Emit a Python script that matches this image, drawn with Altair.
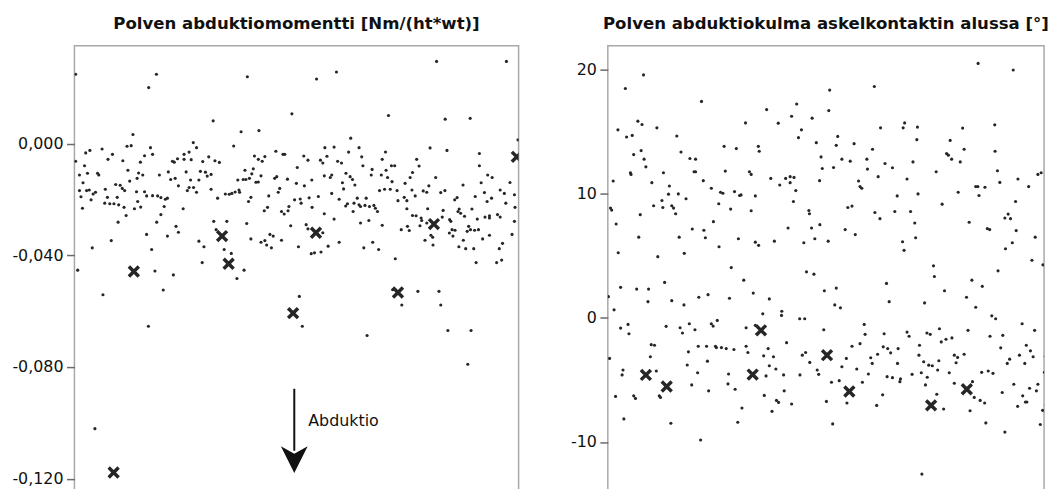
import altair as alt
import pandas as pd

# ---------------- data: left panel (knee abduction moment, values in 1/1000 Nm/(ht*wt)) -------------
left_title = "Polven abduktiomomentti [Nm/(ht*wt)]"
right_title = "Polven abduktiokulma askelkontaktin alussa [°]"
left_ticks = [0, -40, -80, -120]
right_ticks = [20, 10, 0, -10]

left_dots_a = [(19.7,3.3),(17.7,-0.9),(19.1,-0.7),(25.6,-1.4),(9.3,-1.9),(5.2,-2.4),(3.8,-3.3),(12.8,-3.8),(40.0,0.4),(41.1,-1.4),
    (36.9,-3.8),(38.6,-3.0),(45.2,-4.7),(47.3,-6.1),(26.3,-3.8),(23.6,-4.3),(11.3,-5.6),(16.3,-6.1),(22.2,-6.6),(0.4,-6.3),
    (3.4,-7.9),(34.7,-5.4),(33.0,-6.3),(33.6,-6.6),(36.9,-5.6),(39.3,-5.7),(43.2,-6.4),(18.0,-9.5),(21.6,-10.5),(23.0,-11.2),
    (28.6,-11.2),(4.4,-10.6),(7.8,-10.6),(8.2,-11.2),(1.7,-11.2),(31.6,-10.1),(37.6,-10.1),(42.4,-9.9),(44.1,-10.2),(46.0,-11.0),
    (44.7,-11.6),(32.4,-12.8),(33.9,-12.4),(39.1,-13.0),(41.9,-13.0),(21.1,-12.4),(18.6,-13.4),(13.9,-14.6),(15.4,-14.9),(2.9,-14.0),
    (10.4,-16.3),(16.1,-16.0),(16.9,-16.8),(20.9,-17.2),(23.6,-17.2),(26.3,-18.6),(28.0,-18.7),(29.1,-19.3),(30.6,-19.9),(31.3,-19.5),
    (35.0,-15.1),(38.6,-15.7),(38.0,-16.8),(40.1,-15.7),(41.1,-17.4),(46.0,-16.3),(1.7,-16.8),(4.1,-16.8),(5.0,-16.6),(7.1,-17.4),
    (6.3,-18.0),(2.2,-19.0),(11.1,-19.2),(14.4,-19.2),(24.3,-18.7),(5.6,-20.1),(10.2,-21.3),(11.9,-21.5),(13.3,-21.5),(14.9,-21.9),
    (21.3,-20.7),(16.7,-22.8),(20.2,-23.3),(22.3,-22.7),(30.2,-22.5),(2.7,-23.1),(36.6,-23.3),(29.1,-25.4),(17.4,-25.7),(14.7,-28.1),
    (27.7,-28.1),(46.9,-27.8),(34.2,-29.6),(35.0,-31.7),(47.7,-30.8),(24.3,-32.5),(31.3,-33.1),(12.4,-34.7),(41.9,-34.9),(43.6,-36.9),
    (6.0,-37.3),(26.0,-37.9),(43.0,-42.6),(1.1,-45.3),(27.1,-45.6),(33.3,-47.0),(29.9,-52.4),(9.6,-54.1)]

left_dots_b = [(56.1,4.3),(62.1,4.7),(53.6,-0.8),(93.0,2.0),(84.3,-1.4),(87.4,-1.2),(95.8,-1.4),(67.8,-2.7),(70.2,-3.8),(70.8,-3.8),
    (60.6,-4.4),(61.9,-5.6),(64.1,-4.6),(63.2,-6.3),(77.2,-4.4),(78.6,-5.9),(82.8,-5.9),(83.6,-6.9),(85.0,-4.5),(88.6,-6.3),
    (89.9,-6.9),(92.3,-3.0),(48.8,-6.7),(57.4,-9.5),(60.2,-9.0),(59.7,-10.8),(62.8,-11.5),(57.7,-12.8),(55.0,-13.0),(56.8,-12.8),
    (58.9,-12.4),(61.1,-13.8),(61.9,-13.7),(67.4,-12.4),(68.1,-11.8),(71.7,-12.7),(75.0,-8.5),(74.7,-14.2),(77.4,-15.1),(79.9,-13.0),
    (84.1,-11.5),(86.1,-12.1),(86.6,-11.2),(91.4,-10.6),(92.8,-11.8),(93.6,-12.8),(94.4,-14.8),(90.2,-14.0),(90.6,-16.2),(69.1,-16.0),
    (68.6,-17.4),(48.2,-19.5),(50.8,-18.0),(52.1,-18.1),(53.0,-17.8),(54.1,-17.3),(55.4,-16.6),(55.6,-17.4),(58.6,-20.7),(59.4,-19.2),
    (65.4,-18.7),(74.1,-20.1),(76.0,-19.8),(76.3,-21.3),(79.0,-19.4),(82.1,-18.9),(86.6,-17.8),(89.1,-19.9),(95.2,-19.5),(95.8,-21.9),
    (94.1,-21.3),(91.3,-22.3),(91.9,-21.5),(96.3,-22.5),(63.9,-24.0),(65.0,-22.8),(69.7,-24.3),(70.6,-25.2),(71.9,-24.0),(72.2,-22.5),
    (80.0,-22.8),(84.1,-25.1),(87.4,-27.0),(93.8,-24.3),(51.3,-27.8),(58.0,-28.6),(72.8,-29.4),(78.0,-29.0),(78.6,-30.5),(66.9,-33.1),
    (65.8,-32.5),(59.4,-34.1),(62.8,-35.3),(64.1,-34.7),(64.7,-36.3),(66.3,-37.3),(69.7,-34.6),(75.4,-36.9),(79.7,-39.4),(80.8,-39.1),
    (83.0,-38.8),(85.4,-36.7),(89.1,-35.3),(83.6,-31.9),(50.4,-37.9),(52.8,-39.3),(57.1,-45.3),(54.7,-48.3),(75.7,-54.7)]

left_dots_c = [(119.7,-1.5),(125.4,-2.4),(104.7,-2.95),(96.7,-4.7),(103.6,-5.6),(97.1,-7.9),(106.7,-7.9),(107.8,-7.9),(115.2,-5.6),(116.0,-8.0),
    (136.3,-3.5),(136.3,-7.9),(100.2,-9.2),(99.9,-11.2),(104.9,-9.5),(103.3,-11.2),(105.4,-12.1),(113.8,-10.3),(113.0,-12.1),(121.6,-12.1),
    (106.9,-13.6),(139.1,-11.2),(140.6,-12.1),(136.9,-14.0),(130.8,-14.8),(102.7,-16.8),(104.4,-16.3),(106.3,-16.3),(108.6,-16.8),(111.3,-14.2),
    (113.6,-16.6),(114.7,-18.7),(111.0,-19.2),(111.9,-20.4),(108.9,-20.4),(117.4,-16.9),(118.6,-17.4),(119.3,-15.1),(123.3,-17.5),(124.7,-16.8),
    (128.0,-20.1),(128.8,-19.3),(134.9,-18.9),(138.0,-17.5),(140.4,-19.5),(143.3,-16.6),(144.7,-17.8),(145.2,-21.3),(138.9,-20.7),(98.2,-19.5),
    (97.8,-22.1),(99.3,-22.5),(100.8,-22.1),(101.3,-23.1),(102.0,-24.3),(111.9,-23.3),(118.9,-23.3),(124.1,-23.9),(129.1,-24.3),(129.5,-23.4),
    (130.0,-24.9),(131.3,-26.0),(133.8,-23.4),(115.0,-25.8),(113.8,-25.7),(116.7,-26.6),(116.9,-27.5),(118.6,-28.4),(116.3,-29.4),(123.8,-26.3),
    (126.3,-27.2),(126.7,-27.8),(135.6,-27.0),(138.2,-26.3),(139.7,-25.8),(139.7,-26.6),(142.4,-25.4),(143.3,-26.3),(96.3,-28.4),(99.1,-27.5),
    (103.6,-29.2),(112.1,-29.6),(110.0,-30.8),(112.7,-31.1),(120.0,-32.8),(120.6,-33.5),(118.0,-34.6),(120.7,-36.3),(126.2,-32.0),(127.1,-30.8),
    (128.1,-31.0),(127.4,-33.1),(132.7,-29.6),(133.3,-30.8),(134.7,-31.0),(132.2,-31.4),(136.0,-30.8),(130.9,-34.6),(137.4,-34.1),(139.7,-32.8),
    (129.4,-36.9),(131.7,-37.6),(134.4,-37.6),(144.1,-35.7),(143.0,-37.6),(100.4,-35.3),(97.4,-37.3),(102.4,-37.9),(108.0,-41.2),(135.2,-42.6),
    (142.1,-42.6),(143.8,-41.7),(107.1,-52.3),(115.6,-52.9),(122.7,-52.9),(110.2,-57.8),(123.3,-57.8)]

left_dots_edges = [(0.4,24.9),(25.0,20.1),(27.6,24.9),(58.2,24.0),(81.5,23.2),(88.2,25.7),(121.9,29.5),(145.4,29.5),(46.7,8.2),(73.2,10.7),
    (105.7,10.1),(124.8,8.8),(133.2,9.1),(149.3,1.4),(146.6,-13.9),(148.1,-18.3),(148.3,-22.8),(148.1,-27.8),(147.3,-32.5),
    (24.9,-65.4),(76.7,-65.4),(98.5,-68.7),(125.7,-66.9),(133.5,-66.9),(132.4,-79.0),(6.9,-102.1)]

left_crosses = [(20.0,-45.8),(49.7,-33.1),(51.9,-43.0),(73.6,-60.7),(81.3,-31.9),(108.9,-53.3),(121.0,-28.8),(148.9,-4.7),(13.2,-117.8)]

# ---------------- data: right panel (knee abduction angle at initial contact, degrees) ---------------
right_dots_a = [(12.0,19.55),(5.9,18.46),(31.5,17.42),(46.3,15.69),(10.1,15.83),(11.5,15.56),(16.5,15.29),(3.4,15.13),(6.3,14.55),(8.2,14.68),
    (23.2,14.63),(24.6,13.35),(8.7,13.14),(11.2,13.46),(12.2,12.77),(12.8,12.15),(27.6,12.82),(29.5,12.77),(39.1,13.80),(43.2,13.62),
    (7.6,11.68),(7.8,11.54),(18.7,11.68),(29.0,11.76),(29.5,11.76),(39.5,11.81),(47.6,11.76),(48.2,11.54),(1.8,11.01),(14.8,10.88),
    (20.7,10.61),(20.4,9.95),(23.7,9.97),(26.3,9.58),(18.2,9.44),(15.4,9.02),(21.5,9.02),(22.1,8.83),(22.8,8.38),(18.5,8.88),
    (32.1,11.04),(34.8,10.43),(37.9,10.11),(38.7,10.03),(37.3,9.18),(41.3,8.75),(42.6,10.16),(44.3,9.84),(44.8,9.89),(48.2,8.62),
    (49.6,9.81),(0.9,8.83),(1.3,8.67),(2.8,7.55),(10.9,8.30),(10.4,6.49),(3.5,5.24),(16.8,4.92),(24.0,6.49),(25.7,5.19),
    (28.4,7.15),(32.3,7.05),(32.8,6.44),(35.5,7.74),(37.4,5.72),(43.9,6.36),(49.6,6.09),(41.5,4.04),(45.7,3.03),(48.9,1.99),
    (19.1,2.85),(4.3,2.45),(9.7,2.31),(13.7,2.31),(13.5,1.30),(0.2,1.70),(2.1,0.64),(21.5,1.38),(25.6,1.04),(30.6,1.65),
    (33.7,1.86),(40.9,1.57),(4.3,-0.83),(6.8,-0.53),(7.1,-1.28),(19.6,-0.69),(24.3,-0.80),(25.1,-1.22),(27.4,-0.48),(29.3,-0.96),
    (34.8,-0.48),(35.4,-0.67),(36.8,-0.21),(46.5,-0.80),(49.6,-0.61),(14.6,-2.16),(15.7,-2.21),(14.3,-3.14),(27.1,-2.74),(30.4,-2.29),
    (33.2,-2.29),(36.2,-2.29),(36.5,-2.40),(38.2,-2.40),(39.8,-2.48),(42.4,-2.55),(46.5,-2.29),(47.1,-2.79),(33.5,-3.49),(0.6,-3.27),
    (5.1,-4.20),(4.8,-4.60),(16.3,-4.28),(26.7,-3.80),(30.2,-4.42),(40.6,-4.52),(40.4,-5.32),(42.8,-5.75),(28.2,-5.40),(33.9,-5.88),
    (2.6,-6.33),(8.7,-6.28),(9.3,-6.49),(17.3,-6.28),(17.7,-6.41),(45.1,-7.26),(43.7,-8.41),(5.4,-8.14),(21.2,-8.49),(31.2,-9.84)]

right_dots_b = [(89.6,18.62),(74.6,18.33),(63.5,17.21),(53.4,16.76),(74.3,16.68),(61.8,16.22),(68.7,16.07),(57.3,15.67),(91.7,15.29),(65.1,15.13),
    (64.1,14.50),(77.3,14.60),(76.8,13.88),(70.1,14.10),(82.8,14.02),(50.6,13.80),(50.9,13.41),(89.0,13.57),(71.7,12.95),(72.1,12.02),
    (75.9,12.10),(78.7,12.77),(81.5,12.61),(87.1,12.77),(87.3,11.97),(93.2,12.42),(95.7,12.08),(90.9,11.36),(54.8,11.22),(59.8,11.22),
    (61.3,11.36),(62.6,11.30),(57.8,10.69),(61.3,10.88),(71.2,11.04),(63.2,10.24),(84.3,11.01),(84.8,10.56),(85.4,10.43),(62.4,9.36),
    (97.3,9.81),(96.5,8.56),(67.6,8.64),(67.8,8.38),(80.7,8.88),(82.1,8.99),(89.8,8.48),(91.5,7.98),(60.6,7.23),(68.5,7.23),
    (71.3,7.50),(79.8,7.10),(83.2,6.70),(50.7,5.83),(56.0,6.17),(65.9,6.04),(69.6,6.36),(74.1,6.17),(99.1,6.12),(99.6,5.43),
    (66.8,3.70),(69.3,3.51),(93.7,2.77),(94.6,1.30),(72.8,2.18),(76.8,2.39),(54.3,1.52),(76.3,1.04),(78.2,0.80),(52.1,0.32),
    (58.5,0.53),(58.4,0.19),(64.5,-0.08),(66.2,-0.08),(72.6,-0.96),(86.2,-0.53),(86.5,-1.33),(92.9,-1.28),(60.1,-2.00),(82.1,-2.29),
    (84.8,-2.08),(53.9,-2.48),(52.4,-3.06),(55.7,-3.14),(65.4,-3.01),(66.5,-2.79),(67.9,-3.59),(70.4,-4.20),(70.9,-4.55),(80.2,-3.27),
    (78.7,-3.94),(83.7,-4.12),(88.4,-3.22),(88.9,-3.67),(87.6,-4.52),(90.7,-2.93),(92.6,-2.34),(94.1,-2.48),(95.1,-2.82),(97.6,-2.48),
    (97.4,-3.67),(93.9,-4.74),(95.7,-4.82),(98.4,-4.92),(98.2,-5.14),(54.3,-3.86),(56.5,-4.12),(59.1,-4.60),(53.2,-4.68),(64.6,-4.60),
    (75.2,-5.19),(77.8,-5.06),(85.6,-5.19),(52.6,-6.25),(56.7,-6.65),(57.4,-6.81),(59.3,-5.88),(61.8,-6.94),(55.2,-7.53),(73.5,-6.73),
    (80.4,-6.86),(90.4,-7.05),(92.4,-6.20),(75.6,-8.54)]

right_dots_c = [(124.5,20.48),(136.3,19.95),(99.8,15.69),(99.3,15.29),(104.1,15.35),(103.9,14.34),(119.3,15.27),(130.1,15.53),(115.1,14.28),(119.8,13.57),
    (130.2,13.41),(147.4,13.35),(102.6,12.55),(113.9,13.22),(114.5,13.09),(115.6,12.77),(118.5,12.55),(110.4,11.76),(100.6,11.17),(131.0,11.84),
    (131.8,10.90),(137.9,11.17),(141.5,10.56),(144.6,11.54),(145.7,11.68),(104.3,9.97),(117.8,10.11),(123.7,10.56),(124.4,10.56),(126.8,10.51),
    (124.8,9.84),(112.4,9.15),(101.8,8.56),(103.2,7.63),(103.5,6.44),(121.5,7.69),(127.6,7.18),(128.4,7.10),(133.5,8.03),(134.6,8.35),
    (135.4,7.98),(137.1,9.36),(137.3,7.02),(136.0,6.04),(133.7,5.56),(148.2,7.69),(148.0,6.70),(143.7,6.49),(142.6,4.63),(146.3,4.26),
    (131.2,3.78),(109.5,4.18),(109.8,3.32),(122.4,3.03),(125.9,2.53),(113.2,2.18),(106.5,1.20),(120.6,1.65),(123.7,0.85),(129.1,0.16),
    (130.4,-0.08),(139.3,-0.48),(143.5,-1.01),(100.6,-1.15),(101.3,-1.49),(107.3,-1.22),(108.4,-1.33),(111.5,-0.88),(112.1,-1.94),(113.7,-1.73),
    (115.7,-1.62),(121.1,-1.01),(128.5,-1.49),(132.8,-1.41),(104.8,-2.21),(104.6,-3.01),(106.2,-3.54),(107.9,-3.81),(109.1,-3.86),(111.3,-3.46),
    (110.9,-4.20),(116.5,-3.01),(117.6,-3.19),(117.1,-3.62),(119.8,-2.93),(114.8,-4.42),(102.3,-4.55),(105.4,-4.42),(107.4,-4.79),(106.8,-5.40),
    (125.7,-4.39),(127.9,-4.28),(129.5,-4.47),(132.1,-2.42),(135.1,-3.33),(134.3,-3.67),(138.4,-3.01),(140.2,-3.67),(140.7,-2.21),(142.1,-2.66),
    (143.0,-3.14),(147.1,-3.09),(149.3,-3.41),(146.8,-4.39),(148.7,-4.74),(122.6,-5.14),(116.5,-5.27),(136.5,-5.35),(132.6,-6.01),(141.8,-5.67),
    (144.1,-5.88),(144.6,-5.35),(139.5,-6.28),(140.4,-6.78),(140.9,-6.78),(137.8,-7.13),(110.6,-6.15),(112.9,-7.34),(121.8,-7.48),(123.2,-6.41),
    (125.2,-6.65),(126.7,-6.86),(146.2,-7.45),(145.4,-8.59),(127.1,-8.46),(133.5,-9.20),(105.6,-12.58)]

right_crosses = [(12.8,-4.60),(19.8,-5.53),(48.7,-4.57),(51.5,-1.01),(73.7,-3.01),(81.2,-5.93),(108.7,-7.05),(120.7,-5.75),(148.6,-7.33)]

# annotation (left panel): arrow pointing towards abduction
arrow_x = [74.0]
arrow_top = [-87.8]
arrow_end = [-110.0]
arrow_head_y = [-113.2]
arrow_label = ["Abduktio"]
arrow_label_x = [78.7]
arrow_label_y = [-99.5]


def table(*groups):
    rows = [p for g in groups for p in g]
    return pd.DataFrame(rows, columns=["x", "y"])


FONT = "DejaVu Sans"
INK = "#262626"
H = 470
W_LEFT, W_RIGHT = 448, 440
X_LEFT = [0, 149.5]
X_RIGHT = [0, 146.67]


def x_enc(dom):
    return alt.X("x:Q", scale=alt.Scale(domain=dom, nice=False, zero=False), axis=None)


def y_enc(domain, ticks, label_expr):
    return alt.Y(
        "y:Q",
        scale=alt.Scale(domain=domain, nice=False, zero=False),
        axis=alt.Axis(values=ticks, labelExpr=label_expr, title=None, grid=False, domain=False,
                      tickSize=8, tickColor="#6a6a6a", tickWidth=1.5, labelFont=FONT, labelFontSize=16,
                      labelColor="#111111", labelPadding=3.5, minExtent=63, maxExtent=63),
    )


def panel(title, dots, crosses, xdom, width, ydom, ticks, label_expr, extra=None):
    y = y_enc(ydom, ticks, label_expr)
    xe = x_enc(xdom)
    d = alt.Chart(dots).mark_circle(size=10, color=INK, opacity=1, clip=True).encode(x=xe, y=y)
    c = alt.Chart(crosses).mark_point(shape="M-1,-1L1,1M1,-1L-1,1", size=100, strokeWidth=3.5,
                                       color=INK, filled=False, opacity=1, clip=True).encode(x=xe, y=y)
    layers = [d, c] + (extra or [])
    return alt.layer(*layers).properties(
        width=width, height=H,
        title=alt.TitleParams(title, font=FONT, fontSize=16.7, fontWeight="bold", color="#111111",
                              anchor="middle", baseline="alphabetic", offset=0),
    )


left_expr = "(datum.value < 0 ? '-' : '') + replace(format(abs(datum.value) / 1000, '.3f'), '.', ',')"
right_expr = "(datum.value < 0 ? '-' : '') + format(abs(datum.value), 'd')"

left_dom = [-131.89, 35.06]
right_dom = [-15.62, 21.89]

arrow_df = pd.DataFrame({"x": arrow_x, "y": arrow_top, "y2": arrow_end, "yh": arrow_head_y})
label_df = pd.DataFrame({"x": arrow_label_x, "y": arrow_label_y, "t": arrow_label})
lx = x_enc(X_LEFT)
ly = alt.Y("y:Q", scale=alt.Scale(domain=left_dom, nice=False, zero=False))
arrow_line = alt.Chart(arrow_df).mark_rule(strokeWidth=2, color="#111111").encode(x=lx, y=ly, y2="y2:Q")
arrow_head = alt.Chart(arrow_df).mark_point(shape="M-1,-1L0,1L1,-1L0,-0.45Z", size=729, filled=True,
                                            color="#111111", opacity=1, strokeWidth=0).encode(
    x=lx, y=alt.Y("yh:Q", scale=alt.Scale(domain=left_dom, nice=False, zero=False)))
arrow_text = alt.Chart(label_df).mark_text(align="left", baseline="middle", font=FONT, fontSize=16,
                                           color="#111111").encode(x=lx, y=ly, text="t:N")

left = panel(left_title, table(left_dots_a, left_dots_b, left_dots_c, left_dots_edges), table(left_crosses),
             X_LEFT, W_LEFT, left_dom, left_ticks, left_expr, [arrow_line, arrow_head, arrow_text])
right = panel(right_title, table(right_dots_a, right_dots_b, right_dots_c), table(right_crosses),
              X_RIGHT, W_RIGHT, right_dom, right_ticks, right_expr)

chart = alt.hconcat(left, right, spacing=25).configure_view(
    stroke="#a8a8a8", strokeWidth=1.5
).properties(padding={"left": 3, "top": 5, "right": 0, "bottom": 0})

chart.save("out.html", embed_options={"renderer": "svg", "actions": False})
